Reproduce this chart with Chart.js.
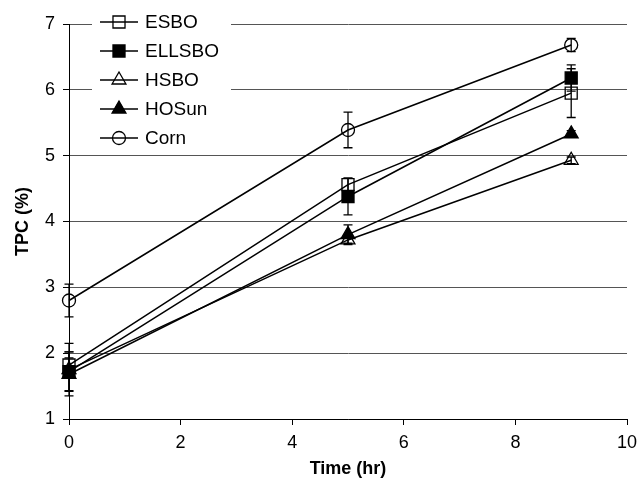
<!DOCTYPE html>
<html>
<head>
<meta charset="utf-8">
<script src="https://cdn.jsdelivr.net/npm/chart.js@4.4.1/dist/chart.umd.min.js"></script>
<style>
  html, body { margin: 0; padding: 0; background: #fff; }
  #wrap { position: relative; width: 641px; height: 480px; }
</style>
</head>
<body>
<div id="wrap"><canvas id="myChart" width="641" height="480"></canvas></div>
<script>
// sampling times (hr)
const times = [0, 5, 9];

// TPC (%) means and error (± half range)
const esbo = [1.82, 4.56, 5.95];
const esboErr = [0.2, 0.1, 0.37];
const ellsbo = [1.72, 4.38, 6.18];
const ellsboErr = [0.3, 0.28, 0.2];
const hsbo = [1.75, 3.72, 4.93];
const hsboErr = [0.4, 0.05, 0.05];
const hosun = [1.68, 3.8, 5.33];
const hosunErr = [0.25, 0.15, 0.05];
const corn = [2.8, 5.39, 6.68];
const cornErr = [0.25, 0.27, 0.1];

const xTicks = [0, 2, 4, 6, 8, 10];
const yTicks = [1, 2, 3, 4, 5, 6, 7];

const FONT = '"Liberation Sans", Arial, Helvetica, sans-serif';

const series = [
  { label: 'ESBO', values: esbo, err: esboErr, style: 'rect', fill: false, radius: 8.5 },
  { label: 'ELLSBO', values: ellsbo, err: ellsboErr, style: 'rect', fill: true, radius: 8.5 },
  { label: 'HSBO', values: hsbo, err: hsboErr, style: 'triangle', fill: false, radius: 8 },
  { label: 'HOSun', values: hosun, err: hosunErr, style: 'triangle', fill: true, radius: 8 },
  { label: 'Corn', values: corn, err: cornErr, style: 'circle', fill: false, radius: 6.5 }
];

const datasets = series.map(s => ({
  label: s.label,
  data: times.map((t, i) => ({ x: t, y: s.values[i], err: s.err[i] })),
  borderColor: '#000',
  borderWidth: 1.5,
  pointStyle: s.style,
  pointRadius: s.radius,
  pointHoverRadius: s.radius,
  pointBorderWidth: 1.3,
  pointBorderColor: '#000',
  pointBackgroundColor: s.fill ? '#000' : 'rgba(0,0,0,0)',
  fill: false,
  clip: false,
  tension: 0
}));

// vertical error bars with caps
const errorBars = {
  id: 'errorBars',
  beforeDatasetsDraw(chart) {
    const { ctx, scales: { x, y } } = chart;
    ctx.save();
    ctx.strokeStyle = '#000';
    ctx.lineWidth = 1.3;
    chart.data.datasets.forEach(ds => {
      ds.data.forEach(p => {
        const px = x.getPixelForValue(p.x);
        const top = y.getPixelForValue(p.y + p.err);
        const bot = y.getPixelForValue(p.y - p.err);
        ctx.beginPath();
        ctx.moveTo(px, top); ctx.lineTo(px, bot);
        ctx.moveTo(px - 4.5, top); ctx.lineTo(px + 4.5, top);
        ctx.moveTo(px - 4.5, bot); ctx.lineTo(px + 4.5, bot);
        ctx.stroke();
      });
    });
    ctx.restore();
  }
};

// boxed legend inside the plot, top-left
const innerLegend = {
  id: 'innerLegend',
  afterDraw(chart) {
    const { ctx } = chart;
    const x0 = 92, y0 = 8, rowH = 29;
    ctx.save();
    ctx.fillStyle = '#fff';
    ctx.fillRect(x0, y0, 139, rowH * series.length + 2);
    series.forEach((s, i) => {
      const cy = y0 + 14 + i * rowH;
      ctx.strokeStyle = '#000';
      ctx.lineWidth = 1.5;
      ctx.beginPath();
      ctx.moveTo(x0 + 8, cy); ctx.lineTo(x0 + 46, cy);
      ctx.stroke();
      ctx.fillStyle = s.fill ? '#000' : 'rgba(0,0,0,0)';
      ctx.lineWidth = 1.3;
      Chart.helpers.drawPoint(ctx, { pointStyle: s.style, radius: s.radius, borderWidth: 1.3 }, x0 + 27, cy);
      if (s.fill) ctx.fill();
      ctx.fillStyle = '#000';
      ctx.font = '19px ' + FONT;
      ctx.textBaseline = 'middle';
      ctx.fillText(s.label, x0 + 53, cy + 1);
    });
    ctx.restore();
  }
};

new Chart(document.getElementById('myChart'), {
  type: 'line',
  data: { datasets },
  options: {
    responsive: false,
    animation: false,
    events: [],
    layout: { padding: { left: 0, top: 24, right: 14, bottom: 0 } },
    plugins: { legend: { display: false }, tooltip: { enabled: false } },
    scales: {
      x: {
        type: 'linear',
        min: 0,
        max: 10,
        afterBuildTicks: axis => { axis.ticks = xTicks.map(v => ({ value: v })); },
        afterFit: axis => { axis.height = 61; axis.paddingRight = 0; axis.paddingLeft = 0; },
        border: { color: '#000', width: 1 },
        grid: { drawOnChartArea: false, drawTicks: true, tickLength: 6, color: '#000' },
        ticks: { color: '#000', padding: 7, font: { family: FONT, size: 18 } },
        title: {
          display: true,
          text: 'Time (hr)',
          color: '#000',
          font: { family: FONT, size: 18, weight: 'bold' },
          padding: { top: 0, bottom: 0 }
        }
      },
      y: {
        min: 1,
        max: 7,
        afterBuildTicks: axis => { axis.ticks = yTicks.map(v => ({ value: v })); },
        afterFit: axis => { axis.width = 69; },
        border: { color: '#000', width: 1 },
        grid: { color: '#555', lineWidth: 1, drawTicks: true, tickLength: 6, tickColor: '#000' },
        ticks: { color: '#000', padding: 8, font: { family: FONT, size: 18 } },
        title: {
          display: true,
          text: 'TPC (%)',
          color: '#000',
          font: { family: FONT, size: 18, weight: 'bold' },
          padding: { top: 12, bottom: 0 }
        }
      }
    }
  },
  plugins: [errorBars, innerLegend]
});
</script>
</body>
</html>
